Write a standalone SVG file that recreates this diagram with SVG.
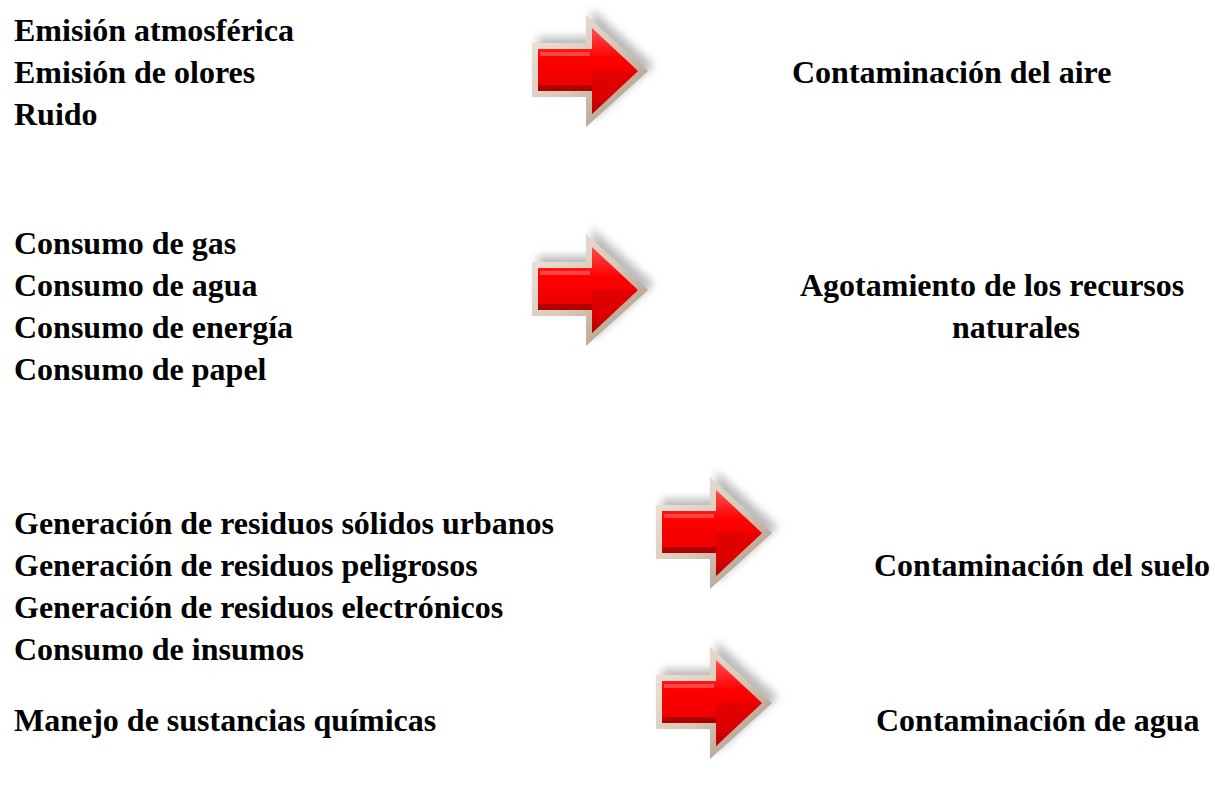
<svg xmlns="http://www.w3.org/2000/svg" width="1215" height="791" viewBox="0 0 1215 791">
<style>
text{font-family:"Liberation Serif","Times New Roman",serif;font-weight:bold;font-size:32px;fill:#000}
</style>
<defs>
<linearGradient id="bev" x1="0" y1="0" x2="1" y2="1">
<stop offset="0" stop-color="#f2e8de"/><stop offset="0.5" stop-color="#d8c8b8"/><stop offset="1" stop-color="#a08c7c"/>
</linearGradient>
<linearGradient id="red" x1="0" y1="0" x2="0" y2="1">
<stop offset="0" stop-color="#ff5050"/><stop offset="0.35" stop-color="#ff0000"/><stop offset="0.8" stop-color="#e80000"/><stop offset="1" stop-color="#900000"/>
</linearGradient>
<filter id="sh" x="-20%" y="-20%" width="140%" height="140%">
<feGaussianBlur stdDeviation="4"/>
</filter>
<g id="arrow">
<polygon points="6,22 60,22 60,-6 122,50 60,106 60,76 6,76" fill="#777" opacity="0.5" filter="url(#sh)"/>
<polygon points="0,28 54,28 54,0 116,56 54,112 54,82 0,82" fill="url(#bev)"/>
<polygon points="6,34 60,34 60,13 106,56 60,99 60,76 6,76" fill="url(#red)"/>
<polygon points="60,56 106,56 60,99" fill="#d00000" opacity="0.5"/>
<polygon points="6,70 60,70 60,76 6,76" fill="#a00000" opacity="0.8"/>
<polygon points="8,37 58,37 58,41 8,41" fill="#ff8080" opacity="0.5"/>
</g>
</defs>
<g id="n1">
<text x="14" y="41">Emisión atmosférica</text>
<text x="14" y="83">Emisión de olores</text>
<text x="14" y="125">Ruido</text>
</g>
<g id="n2">
<text x="14" y="254">Consumo de gas</text>
<text x="14" y="296">Consumo de agua</text>
<text x="14" y="338">Consumo de energía</text>
<text x="14" y="380">Consumo de papel</text>
</g>
<g id="n3">
<text x="14" y="534">Generación de residuos sólidos urbanos</text>
<text x="14" y="576">Generación de residuos peligrosos</text>
<text x="14" y="618">Generación de residuos electrónicos</text>
<text x="14" y="660">Consumo de insumos</text>
</g>
<g id="n4">
<text x="14" y="731">Manejo de sustancias químicas</text>
</g>
<g id="r1"><text x="792" y="83">Contaminación del aire</text></g>
<g id="r2">
<text x="800" y="296">Agotamiento de los recursos</text>
<text x="1016" y="338" text-anchor="middle">naturales</text>
</g>
<g id="r3"><text x="874" y="576">Contaminación del suelo</text></g>
<g id="r4"><text x="876" y="731">Contaminación de agua</text></g>
<g id="connectors">
<use href="#arrow" x="532" y="15"/>
<use href="#arrow" x="532" y="234"/>
<use href="#arrow" x="656" y="477"/>
<use href="#arrow" x="656" y="647"/>
</g>
</svg>
